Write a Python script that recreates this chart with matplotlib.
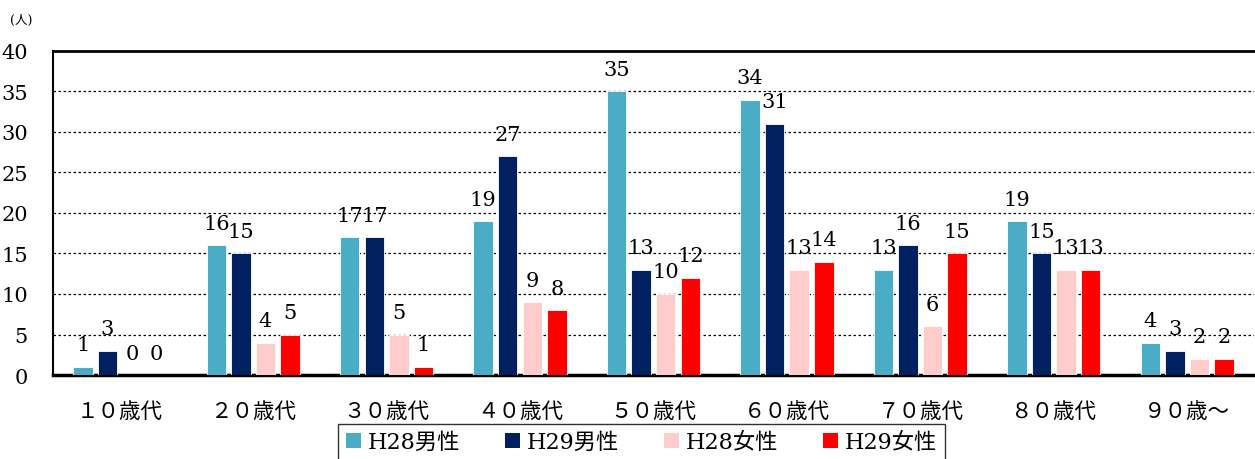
import matplotlib
matplotlib.use("Agg")
import matplotlib.pyplot as plt
import numpy as np
from matplotlib.patches import Patch

plt.rcParams['font.family'] = ['DejaVu Serif', 'Noto Sans CJK JP', 'DejaVu Sans']

categories = ["１０歳代", "２０歳代", "３０歳代", "４０歳代", "５０歳代",
              "６０歳代", "７０歳代", "８０歳代", "９０歳～"]
series_names = ["H28男性", "H29男性", "H28女性", "H29女性"]
h28_male = [1, 16, 17, 19, 35, 34, 13, 19, 4]
h29_male = [3, 15, 17, 27, 13, 31, 16, 15, 3]
h28_female = [0, 4, 5, 9, 10, 13, 6, 13, 2]
h29_female = [0, 5, 1, 8, 12, 14, 15, 13, 2]
colors = ["#4BACC6", "#002060", "#FFCCCC", "#FF0000"]
yticks = [0, 5, 10, 15, 20, 25, 30, 35, 40]

series = [h28_male, h29_male, h28_female, h29_female]

fig = plt.figure(figsize=(12.55, 4.6), dpi=100)
ax = fig.add_axes([0.0422, 0.1826, 0.9570, 0.7044])

x = np.arange(len(categories))
slot = 0.184
width = 0.146
offsets = [-1.5, -0.5, 0.5, 1.5]

for vals, col, off, name in zip(series, colors, offsets, series_names):
    bars = ax.bar(x + off * slot, vals, width=width, color=col,
                  edgecolor="white", linewidth=0.6, label=name, zorder=3)
    for b, v in zip(bars, vals):
        ax.annotate(str(v), (b.get_x() + b.get_width() / 2, v),
                    xytext=(0, 9), textcoords="offset points",
                    ha="center", va="bottom", fontsize=15, zorder=4)

ax.set_xlim(-0.5, len(categories) - 0.5)
ax.set_ylim(0, 40)
ax.set_yticks(yticks)
ax.set_yticklabels([str(t) for t in yticks], fontsize=15)
ax.set_xticks(x)
ax.set_xticklabels(categories, fontsize=15.5)
ax.tick_params(axis="both", length=0)
ax.tick_params(axis="y", pad=18)
ax.tick_params(axis="x", pad=18)

for t in yticks[1:-1]:
    ax.axhline(t, color="black", linestyle=(0, (2, 2)), linewidth=0.9, zorder=1)

ax.spines["top"].set_linewidth(2)
ax.spines["left"].set_linewidth(1.5)
ax.spines["bottom"].set_linewidth(2.5)
ax.spines["right"].set_visible(False)

fig.text(0.008, 0.955, "(人)", fontsize=9, ha="left", va="center")

handles = [Patch(facecolor=c, edgecolor="none", label=n)
           for c, n in zip(colors, series_names)]
leg = fig.legend(handles=handles, loc="upper center",
                 bbox_to_anchor=(0.511, 0.077), ncol=4, fontsize=16,
                 frameon=True, fancybox=False, edgecolor="black",
                 handlelength=0.7, handleheight=0.7, handletextpad=0.3,
                 columnspacing=2.0, borderpad=0.35, borderaxespad=0)
leg.get_frame().set_linewidth(1.0)

fig.savefig("out.png", dpi=100)
